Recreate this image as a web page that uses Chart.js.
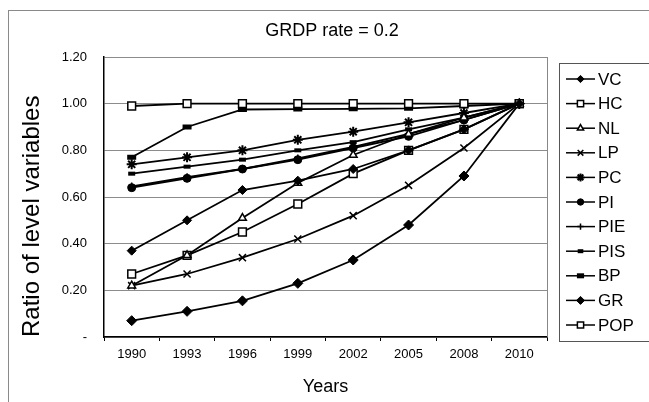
<!DOCTYPE html>
<html><head><meta charset="utf-8">
<script src="https://cdn.jsdelivr.net/npm/chart.js@4.4.0/dist/chart.umd.min.js"></script>
<style>html,body{margin:0;padding:0;background:#fff;}canvas{display:block;}</style>
</head><body>
<canvas id="c" width="649" height="402"></canvas>
<script>
const years = ['1990','1993','1996','1999','2002','2005','2008','2010'];
const yTicks = [0, 0.2, 0.4, 0.6, 0.8, 1.0, 1.2];
const VC  = [0.37, 0.50, 0.63, 0.67, 0.72, 0.80, 0.89, 1.00];
const HC  = [0.99, 1.00, 1.00, 1.00, 1.00, 1.00, 1.00, 1.00];
const NL  = [0.22, 0.35, 0.51, 0.66, 0.78, 0.87, 0.94, 1.00];
const LP  = [0.22, 0.27, 0.34, 0.42, 0.52, 0.65, 0.81, 1.00];
const PC  = [0.74, 0.77, 0.80, 0.845, 0.88, 0.92, 0.96, 1.00];
const PI  = [0.64, 0.68, 0.72, 0.76, 0.81, 0.86, 0.93, 1.00];
const PIE = [0.645, 0.685, 0.72, 0.765, 0.815, 0.87, 0.93, 1.00];
const PIS = [0.70, 0.73, 0.76, 0.80, 0.835, 0.89, 0.94, 1.00];
const BP  = [0.77, 0.90, 0.975, 0.977, 0.978, 0.98, 0.99, 1.00];
const GR  = [0.07, 0.11, 0.155, 0.23, 0.33, 0.48, 0.69, 1.00];
const POP = [0.27, 0.35, 0.45, 0.57, 0.70, 0.80, 0.89, 1.00];
const seriesNames = ['VC','HC','NL','LP','PC','PI','PIE','PIS','BP','GR','POP'];
const seriesValues = [VC, HC, NL, LP, PC, PI, PIE, PIS, BP, GR, POP];

const FONT = "'Liberation Sans', Arial, Helvetica, sans-serif";
const markerStyles = {
  VC:  {pointStyle:'rectRot', r:4.5, bg:'#000', bw:1},
  HC:  {pointStyle:'rect', r:5.5, bg:'#fff', bw:1.5},
  NL:  {pointStyle:'triangle', r:4.5, bg:'#fff', bw:1.5},
  LP:  {pointStyle:'crossRot', r:5, bg:'#000', bw:1.5},
  PC:  {pointStyle:'star', r:5, bg:'#000', bw:2},
  PI:  {pointStyle:'circle', r:4, bg:'#000', bw:1},
  PIE: {pointStyle:'cross', r:4, bg:'#000', bw:1.5},
  PIS: {pointStyle:'line', r:3.5, bg:'#000', bw:4},
  BP:  {pointStyle:'line', r:4.5, bg:'#000', bw:5},
  GR:  {pointStyle:'rectRot', r:5, bg:'#000', bw:1},
  POP: {pointStyle:'rect', r:5.5, bg:'#fff', bw:1.5}
};

const datasets = seriesNames.map((n, i) => {
  const m = markerStyles[n];
  return {
    label: n, data: seriesValues[i],
    borderColor: '#000', borderWidth: 1.8, fill: false, tension: 0,
    pointStyle: m.pointStyle, pointRadius: m.r, pointBackgroundColor: m.bg,
    pointBorderColor: '#000', pointBorderWidth: m.bw
  };
});

const framePlugin = {
  id: 'frame',
  beforeDraw(chart) {
    const ctx = chart.ctx;
    ctx.save();
    ctx.fillStyle = '#fff';
    ctx.fillRect(0, 0, chart.width, chart.height);
    ctx.strokeStyle = '#8a8a8a';
    ctx.lineWidth = 1;
    ctx.strokeRect(8.5, 10.5, 700, 500);
    ctx.restore();
  },
  afterDraw(chart) {
    const ctx = chart.ctx;
    const a = chart.chartArea;
    ctx.save();
    ctx.strokeStyle = '#888';
    ctx.lineWidth = 1;
    ctx.beginPath();
    ctx.moveTo(a.right + 0.5, a.top);
    ctx.lineTo(a.right + 0.5, a.bottom);
    ctx.stroke();
    ctx.fillStyle = '#000';
    ctx.font = '18px ' + FONT;
    ctx.textAlign = 'center';
    ctx.textBaseline = 'middle';
    ctx.fillText('GRDP rate = 0.2', 332, 31);
    const lx = 559.5, ly = 63.5;
    ctx.strokeStyle = '#555';
    ctx.lineWidth = 1;
    ctx.strokeRect(lx, ly, 100, 278);
    chart.data.datasets.forEach((ds, i) => {
      const y = 79 + i * 24.6;
      ctx.strokeStyle = '#000';
      ctx.lineWidth = 1.5;
      ctx.beginPath();
      ctx.moveTo(566, y);
      ctx.lineTo(595, y);
      ctx.stroke();
      ctx.fillStyle = ds.pointBackgroundColor;
      ctx.strokeStyle = '#000';
      ctx.lineWidth = ds.pointBorderWidth;
      Chart.helpers.drawPoint(ctx, {pointStyle: ds.pointStyle, rotation: 0, radius: ds.pointRadius * 0.8, borderWidth: ds.pointBorderWidth}, 580.5, y);
      ctx.fillStyle = '#000';
      ctx.font = '17px ' + FONT;
      ctx.textAlign = 'left';
      ctx.textBaseline = 'middle';
      ctx.fillText(ds.label, 598, y + 1);
    });
    ctx.restore();
  }
};

new Chart(document.getElementById('c'), {
  type: 'line',
  data: { labels: years, datasets },
  plugins: [framePlugin],
  options: {
    responsive: false, animation: false, devicePixelRatio: 1,
    layout: { padding: { top: 57, right: 102, left: 0, bottom: 0 } },
    plugins: { legend: { display: false }, title: { display: false }, tooltip: { enabled: false } },
    scales: {
      x: {
        type: 'category', offset: true,
        grid: { display: true, offset: true, drawOnChartArea: false, drawTicks: true, tickLength: 4, color: '#000' },
        border: { display: true, color: '#000', width: 1.5 },
        ticks: { font: { size: 13, family: FONT }, color: '#000', padding: 6, maxRotation: 0, autoSkip: false },
        title: { display: true, text: 'Years', font: { size: 18, family: FONT }, color: '#000', padding: { top: 0, bottom: 4 } },
        afterFit(s) { s.height = 65; }
      },
      y: {
        min: 0, max: 1.2,
        afterBuildTicks(s) { s.ticks = yTicks.map(v => ({ value: v })); },
        ticks: { font: { size: 13, family: FONT }, color: '#000', padding: 17,
                 callback: v => (v === 0 ? '-' : Number(v).toFixed(2)) },
        grid: { color: '#8c8c8c', drawTicks: false, lineWidth: 1 },
        border: { display: true, color: '#000', width: 1.5 },
        title: { display: true, text: 'Ratio of level variables', align: 'start', font: { size: 24, family: FONT }, color: '#000', padding: { top: 18, bottom: 0 } },
        afterFit(s) { s.width = 104; }
      }
    }
  }
});
</script>
</body></html>
